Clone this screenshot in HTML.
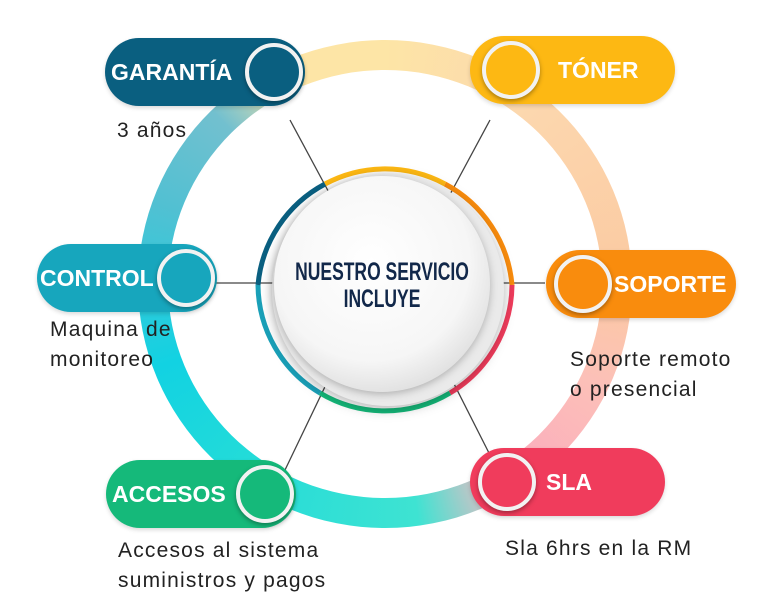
<!DOCTYPE html>
<html><head><meta charset="utf-8"><style>
body{margin:0;width:781px;height:615px;background:#fff;position:relative;overflow:hidden;font-family:"Liberation Sans",sans-serif}
.abs{position:absolute}
.ring{left:138px;top:40px;width:494px;height:488px;border-radius:50%;
background:conic-gradient(from 0deg,#fde5a6 0deg,#fcd7ae 40deg,#fbcaa2 90deg,#fcc0b8 115deg,#fbb0bc 140deg,#f9b8c2 150deg,#3ee3d2 172deg,#22dbd9 220deg,#12d2e2 250deg,#52c0d2 290deg,#72c0cf 315deg,#fde5a6 335deg,#fde5a6 360deg)}
.hole{left:168px;top:70px;width:434px;height:428px;border-radius:50%;background:#fff}
.pill{height:68px;border-radius:34px;color:#fff;font-weight:bold;font-size:23px;display:flex;align-items:center;box-shadow:0 2px 4px rgba(0,0,0,.15);white-space:nowrap}
.dot{width:50px;height:50px;border-radius:50%;border:4px solid #f2f2f2;box-shadow:0 2px 5px rgba(0,0,0,.35);position:absolute;top:5px}
.desc{font-size:21px;color:#222;line-height:30px;letter-spacing:1.2px;white-space:nowrap}
</style></head><body>
<div class="abs ring"></div>
<div class="abs hole"></div>
<svg class="abs" style="left:0;top:0" width="781" height="615">
<g stroke="#444" stroke-width="1.3">
<line x1="290" y1="120" x2="333" y2="200"/>
<line x1="490" y1="120" x2="447" y2="200"/>
<line x1="215" y1="283" x2="275" y2="283"/>
<line x1="500" y1="283" x2="545" y2="283"/>
<line x1="285" y1="470" x2="333" y2="370"/>
<line x1="490" y1="455" x2="447" y2="370"/>
</g>
<g fill="none" stroke-width="5">
<path d="M325 184 A127 127 0 0 1 445 184" stroke="#fdb813"/>
<path d="M445 184 A127 127 0 0 1 512 285" stroke="#f98c0d"/>
<path d="M512 285 A127 127 0 0 1 450 393" stroke="#f03c5c"/>
<path d="M450 393 A127 127 0 0 1 320 393" stroke="#15b97a"/>
<path d="M320 393 A127 127 0 0 1 258 285" stroke="#1aa0b8"/>
<path d="M258 285 A127 127 0 0 1 325 184" stroke="#0a5f80"/>
</g>
<defs><radialGradient id="g" cx="45%" cy="40%" r="65%"><stop offset="0" stop-color="#fff"/><stop offset="0.7" stop-color="#f6f6f6"/><stop offset="1" stop-color="#dcdcdc"/></radialGradient></defs>
<circle cx="388" cy="290" r="116" fill="#eaeaea" style="filter:drop-shadow(0 3px 6px rgba(0,0,0,.3))"/>
<circle cx="382" cy="284" r="108" fill="url(#g)" style="filter:drop-shadow(0 2px 4px rgba(0,0,0,.25))"/>
</svg>
<div class="abs" style="left:232px;top:259px;width:300px;text-align:center;color:#12284a;font-weight:bold;font-size:25px;line-height:27px;transform:scaleX(.7);white-space:nowrap">NUESTRO SERVICIO<br>INCLUYE</div>

<div class="abs pill" style="left:105px;top:38px;width:200px;background:#0a5f80"><span style="margin-left:6px">GARANTÍA</span><div class="dot" style="left:140px;background:#0a5f80"></div></div>
<div class="abs pill" style="left:470px;top:36px;width:205px;background:#fdb813"><div class="dot" style="left:12px;background:#fdb813"></div><span style="margin-left:88px">TÓNER</span></div>
<div class="abs pill" style="left:37px;top:244px;width:180px;background:#17a6bd"><span style="margin-left:3px">CONTROL</span><div class="dot" style="left:120px;background:#17a6bd"></div></div>
<div class="abs pill" style="left:546px;top:250px;width:190px;background:#f98c0d"><div class="dot" style="left:8px;background:#f98c0d"></div><span style="margin-left:68px">SOPORTE</span></div>
<div class="abs pill" style="left:106px;top:460px;width:190px;background:#15b97a"><span style="margin-left:6px">ACCESOS</span><div class="dot" style="left:130px;background:#15b97a"></div></div>
<div class="abs pill" style="left:470px;top:448px;width:195px;background:#f03c5c"><div class="dot" style="left:8px;background:#f03c5c"></div><span style="margin-left:76px">SLA</span></div>

<div class="abs desc" style="left:117px;top:116px">3 años</div>
<div class="abs desc" style="left:50px;top:315px">Maquina de<br>monitoreo</div>
<div class="abs desc" style="left:570px;top:345px">Soporte remoto<br>o presencial</div>
<div class="abs desc" style="left:118px;top:536px">Accesos al sistema<br>suministros y pagos</div>
<div class="abs desc" style="left:505px;top:534px">Sla 6hrs en la RM</div>
</body></html>
